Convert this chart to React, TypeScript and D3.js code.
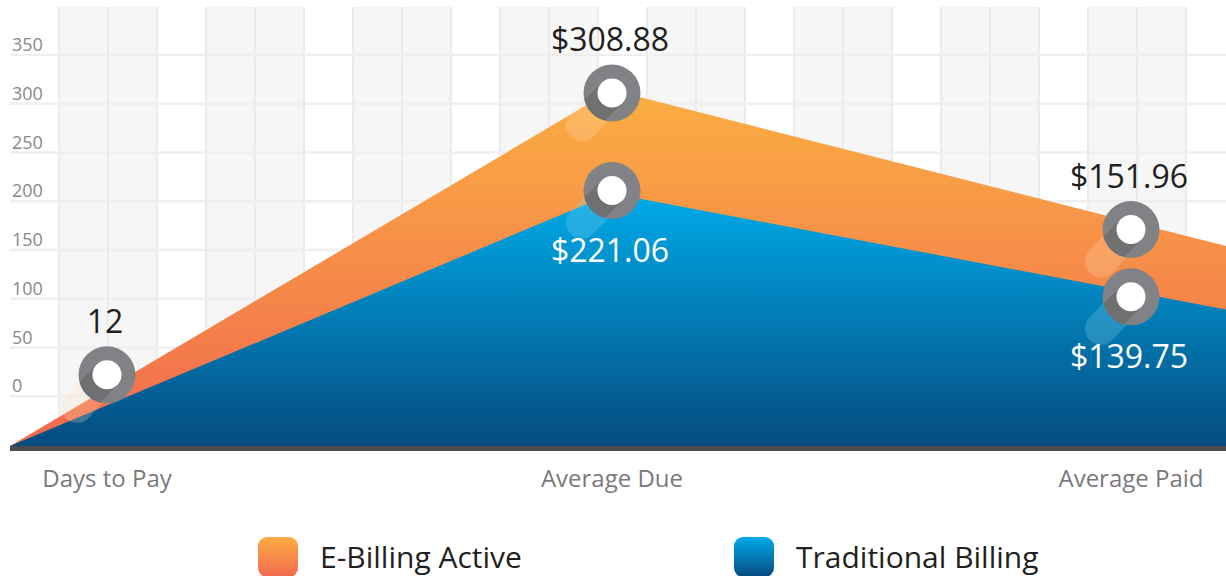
import React from "react";
import * as d3 from "d3";

const categories = ["Days to Pay", "Average Due", "Average Paid"];
const eBillingLabels = ["12", "$308.88", "$151.96"];
const traditionalLabels = [null, "$221.06", "$139.75"];
// marker heights as drawn on the chart's value axis
const eBillingMarkers = [22, 311, 171];
const traditionalMarkers = [null, 211, 102];
// area outline: chart start, Average Due, chart end
const eBillingArea = [-51, 314, 154];
const traditionalArea = [-51, 208, 89];
const yTicks = [0, 50, 100, 150, 200, 250, 300, 350];
const legendItems = ["E-Billing Active", "Traditional Billing"];

const W = 1226;
const H = 576;
const plotLeft = 10;
const plotRight = 1226;
const plotTop = 7;
const plotBottom = 446;
const FONT = "'Open Sans', 'Noto Sans', sans-serif";

const y = d3.scaleLinear().domain([-51, 350]).range([plotBottom, 55]);
const x = d3.scaleLinear().domain([0, 1, 2]).range([107, 612, 1131]);

function areaPoints(vals: number[]): [number, number][] {
  const xs = [plotLeft, x(1), plotRight];
  return vals.map((v, i) => [xs[i], y(v)] as [number, number]);
}

const areaGen = d3
  .area<[number, number]>()
  .x((d) => d[0])
  .y0(plotBottom)
  .y1((d) => d[1]);

function Marker({ cx, cy, id, trail }: { cx: number; cy: number; id: string; trail: string }) {
  const R = 28.5;
  const r = 14.5;
  const dx = -30;
  const dy = 32;
  return (
    <g>
      <line x1={cx} y1={cy} x2={cx + dx} y2={cy + dy} stroke={trail} strokeOpacity={0.25} strokeWidth={32} strokeLinecap="round" />
      <clipPath id={`clip-${id}`}>
        <circle cx={cx} cy={cy} r={R} />
      </clipPath>
      <circle cx={cx} cy={cy} r={R} fill="#818285" />
      <g clipPath={`url(#clip-${id})`}>
        <line x1={cx} y1={cy} x2={cx - 40} y2={cy + 40} stroke="#5c5d60" strokeOpacity={0.5} strokeWidth={2 * r} />
      </g>
      <circle cx={cx} cy={cy} r={r} fill="#ffffff" />
    </g>
  );
}

export default function App() {
  const cols: number[] = d3.range(0, 24).map((k) => 59 + k * 49);
  const eArea = areaGen(areaPoints(eBillingArea)) || "";
  const tArea = areaGen(areaPoints(traditionalArea)) || "";
  return (
    <div style={{ position: "absolute", left: 0, top: 0 }}>
      <svg width={W} height={H} style={{ display: "block", fontFamily: FONT }}>
        <defs>
          <linearGradient id="gOrange" gradientUnits="userSpaceOnUse" x1="0" y1={y(314)} x2="0" y2={plotBottom}>
            <stop offset="0" stopColor="#fbae42" />
            <stop offset="1" stopColor="#f1694f" />
          </linearGradient>
          <linearGradient id="gBlue" gradientUnits="userSpaceOnUse" x1="0" y1={y(208)} x2="0" y2={plotBottom}>
            <stop offset="0" stopColor="#00abe9" />
            <stop offset="1" stopColor="#054b80" />
          </linearGradient>
          <linearGradient id="lgOrange" x1="0" y1="0" x2="0" y2="1">
            <stop offset="0" stopColor="#fbad42" />
            <stop offset="1" stopColor="#f26a4f" />
          </linearGradient>
          <linearGradient id="lgBlue" x1="0" y1="0" x2="0" y2="1">
            <stop offset="0" stopColor="#00abe9" />
            <stop offset="1" stopColor="#054b80" />
          </linearGradient>
        </defs>
        <rect width={W} height={H} fill="#ffffff" />
        {cols.slice(0, -1).map((c, k) =>
          k % 3 === 2 ? null : (
            <rect key={"c" + k} x={c} y={plotTop} width={49} height={plotBottom - plotTop} fill="#f6f6f6" />
          )
        )}
        {cols.map((c, k) => (
          <line key={"v" + k} x1={c} x2={c} y1={plotTop} y2={plotBottom} stroke="#ebebed" strokeWidth={2} />
        ))}
        {yTicks.map((t) => (
          <g key={"h" + t}>
            <line x1={plotLeft} x2={plotRight} y1={y(t)} y2={y(t)} stroke="#efeff0" strokeWidth={2.5} />
            <text x={12} y={y(t) - 4} fontSize={18} fill="#88888a">
              {t}
            </text>
          </g>
        ))}
        <path d={eArea} fill="url(#gOrange)" />
        <path d={tArea} fill="url(#gBlue)" />
        <rect x={plotLeft} y={plotBottom} width={plotRight - plotLeft} height={5} fill="#4b4b4d" />
        {traditionalMarkers.map((v, i) =>
          v == null ? null : <Marker key={"tm" + i} id={"t" + i} cx={x(i)} cy={y(v)} trail="#8fd6f5" />
        )}
        {eBillingMarkers.map((v, i) => (
          <Marker key={"em" + i} id={"e" + i} cx={x(i)} cy={y(v)} trail="#ffe0b8" />
        ))}
        {eBillingLabels.map((l, i) => (
          <text key={"el" + i} x={x(i) - 2} y={y(eBillingMarkers[i]) - 42} textAnchor="middle" fontSize={32} fontWeight={500} fill="#231f20">
            {l}
          </text>
        ))}
        {traditionalLabels.map((l, i) =>
          l == null || traditionalMarkers[i] == null ? null : (
            <text key={"tl" + i} x={x(i) - 2} y={y(traditionalMarkers[i] as number) + 71} textAnchor="middle" fontSize={32} fontWeight={500} fill="#ffffff">
              {l}
            </text>
          )
        )}
        {categories.map((c, i) => (
          <text key={"x" + i} x={x(i)} y={487} textAnchor="middle" fontSize={24} fill="#7a7a7c">
            {c}
          </text>
        ))}
        {legendItems.map((l, i) => {
          const lx = i === 0 ? 258 : 734;
          return (
            <g key={"lg" + i}>
              <rect x={lx} y={537} width={40} height={40} rx={9} fill={i === 0 ? "url(#lgOrange)" : "url(#lgBlue)"} />
              <text x={lx + 62} y={568} fontSize={30} fontWeight={500} fill="#231f20">
                {l}
              </text>
            </g>
          );
        })}
      </svg>
    </div>
  );
}
